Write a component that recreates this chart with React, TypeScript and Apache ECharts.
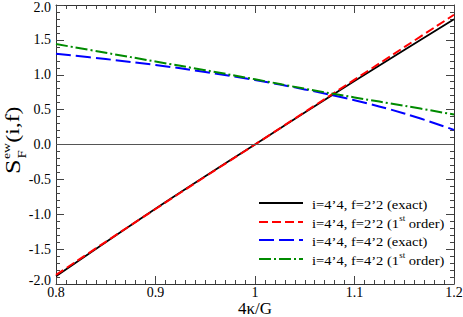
import React, { useEffect, useRef } from "react";
import * as echarts from "echarts";

const xValues = [0.8, 0.85, 0.9, 0.95, 1.0, 1.05, 1.1, 1.15, 1.2];
const exact22 = [-1.89, -1.4, -0.92, -0.455, 0.0, 0.46, 0.91, 1.355, 1.795];
const first22 = [-1.87, -1.395, -0.925, -0.46, 0.0, 0.465, 0.93, 1.395, 1.86];
const exact42 = [1.3, 1.225, 1.14, 1.04, 0.925, 0.79, 0.635, 0.445, 0.21];
const first42 = [1.44, 1.315, 1.19, 1.065, 0.935, 0.8, 0.675, 0.555, 0.43];

const xTitle = "4\u03ba/G";
const legendParts = [
  ["i=4\u20194, f=2\u20192 (exact)", "", ""],
  ["i=4\u20194, f=2\u20192 (1", "st", " order)"],
  ["i=4\u20194, f=4\u20192 (exact)", "", ""],
  ["i=4\u20194, f=4\u20192 (1", "st", " order)"],
];
const seriesColors = ["#000000", "#ff0000", "#0000ff", "#008b00"];
const seriesDashes: any[] = ["solid", [9, 4], [15, 5], [12, 3, 2, 3]];
const seriesWidths = [1.8, 2, 2, 2];

const FONT = "Liberation Serif";

export default function App() {
  const ref = useRef<HTMLDivElement>(null);
  useEffect(() => {
    if (!ref.current) return;
    const chart = echarts.init(ref.current, undefined, { renderer: "svg" });
    const seriesData = [exact22, first22, exact42, first42];

    const axisCommon = (show: boolean) => ({
      type: "value" as const,
      axisLine: { show: true, onZero: false, lineStyle: { color: "#333", width: 1 } },
      axisTick: { show: true, inside: true, length: 8, lineStyle: { color: "#444", width: 1 } },
      minorTick: { show: true, length: 4, lineStyle: { color: "#444", width: 1 } },
      splitLine: { show: false },
      minorSplitLine: { show: false },
      axisLabel: { show, color: "#000", fontFamily: FONT, fontSize: 14 },
    });

    const legendY = [203, 222, 240, 259];
    const graphic: any[] = [];
    legendY.forEach((y, i) => {
      graphic.push({
        type: "line",
        shape: { x1: 259, y1: y, x2: 303, y2: y },
        style: {
          stroke: seriesColors[i],
          lineWidth: seriesWidths[i],
          lineDash: seriesDashes[i] === "solid" ? null : seriesDashes[i],
        },
      });
      const [a, sup, b] = legendParts[i];
      const text = sup ? `{a|${a}}{s|${sup}}{a|${b}}` : `{a|${a}}`;
      graphic.push({
        type: "text",
        x: 312,
        y: y,
        scaleX: 1.12,
        style: {
          text,
          verticalAlign: "middle",
          rich: {
            a: { fontFamily: FONT, fontSize: 13, fill: "#000", lineHeight: 16, verticalAlign: "bottom" },
            s: { fontFamily: FONT, fontSize: 8, fill: "#000", lineHeight: 16, verticalAlign: "top" },
          },
        },
      });
    });

    // X axis title
    graphic.push({
      type: "text",
      x: 255,
      y: 308,
      style: { text: xTitle, fontFamily: FONT, fontSize: 17, lineHeight: 15, fill: "#000", align: "center", verticalAlign: "middle" },
    });

    // Y axis title: S_F^ew(i,f), rotated
    graphic.push({
      type: "group",
      x: 20,
      y: 174,
      rotation: Math.PI / 2,
      scaleX: 1.25,
      children: [
        { type: "text", x: 0, y: -7, style: { text: "S", fontFamily: FONT, fontSize: 21, fill: "#000", verticalAlign: "middle" } },
        { type: "text", x: 12, y: -14, style: { text: "ew", fontFamily: FONT, fontSize: 11, fill: "#000", verticalAlign: "middle" } },
        { type: "text", x: 12.5, y: 2, style: { text: "F", fontFamily: FONT, fontSize: 12, fill: "#000", verticalAlign: "middle" } },
        { type: "text", x: 25, y: -7, style: { text: "(i,f)", fontFamily: FONT, fontSize: 19, fill: "#000", verticalAlign: "middle" } },
      ],
    });

    chart.setOption({
      animation: false,
      backgroundColor: "#fff",
      textStyle: { fontFamily: FONT },
      grid: { left: 56, right: 9, top: 5, bottom: 33, containLabel: false, outerBoundsMode: "none" },
      xAxis: [
        {
          ...axisCommon(true),
          position: "bottom",
          min: 0.8,
          max: 1.2,
          interval: 0.1,
          minorTick: { show: true, splitNumber: 10, length: 4, lineStyle: { color: "#444", width: 1 } },
          axisLabel: { show: true, color: "#000", fontFamily: FONT, fontSize: 14, lineHeight: 10, margin: 3 },
        },
        {
          ...axisCommon(false),
          position: "top",
          min: 0.8,
          max: 1.2,
          interval: 0.1,
          minorTick: { show: true, splitNumber: 10, length: 4, lineStyle: { color: "#444", width: 1 } },
        },
      ],
      yAxis: [
        {
          ...axisCommon(true),
          position: "left",
          min: -2,
          max: 2,
          interval: 0.5,
          minorTick: { show: true, splitNumber: 5, length: 4, lineStyle: { color: "#444", width: 1 } },
          axisLabel: {
            show: true,
            color: "#000",
            fontFamily: FONT,
            fontSize: 14,
            lineHeight: 12,
            margin: 5,
            formatter: (v: number) =>
              v === 2 ? "{t|" + v.toFixed(1) + "}" : v === -2 ? "{b|" + v.toFixed(1) + "}" : v.toFixed(1),
            rich: {
              t: { fontFamily: FONT, fontSize: 14, lineHeight: 12, padding: [4, 0, 0, 0], color: "#000" },
              b: { fontFamily: FONT, fontSize: 14, lineHeight: 12, padding: [0, 0, 7, 0], color: "#000" },
            },
          },
        },
        {
          ...axisCommon(false),
          position: "right",
          min: -2,
          max: 2,
          interval: 0.5,
          minorTick: { show: true, splitNumber: 5, length: 4, lineStyle: { color: "#444", width: 1 } },
        },
      ],
      series: seriesData.map((d, i) => ({
        type: "line",
        xAxisIndex: 0,
        yAxisIndex: 0,
        data: d.map((v, j) => [xValues[j], v]),
        showSymbol: false,
        symbol: "none",
        smooth: 0.4,
        lineStyle: { color: seriesColors[i], width: seriesWidths[i], type: seriesDashes[i] },
        z: 2 + i,
        markLine:
          i === 0
            ? {
                silent: true,
                symbol: "none",
                label: { show: false },
                lineStyle: { color: "#555", width: 1, type: "solid" },
                data: [{ yAxis: 0 }],
              }
            : undefined,
      })),
      graphic,
    });
    return () => chart.dispose();
  }, []);
  return <div ref={ref} style={{ width: 463, height: 317, position: "absolute", left: 0, top: 0 }} />;
}
